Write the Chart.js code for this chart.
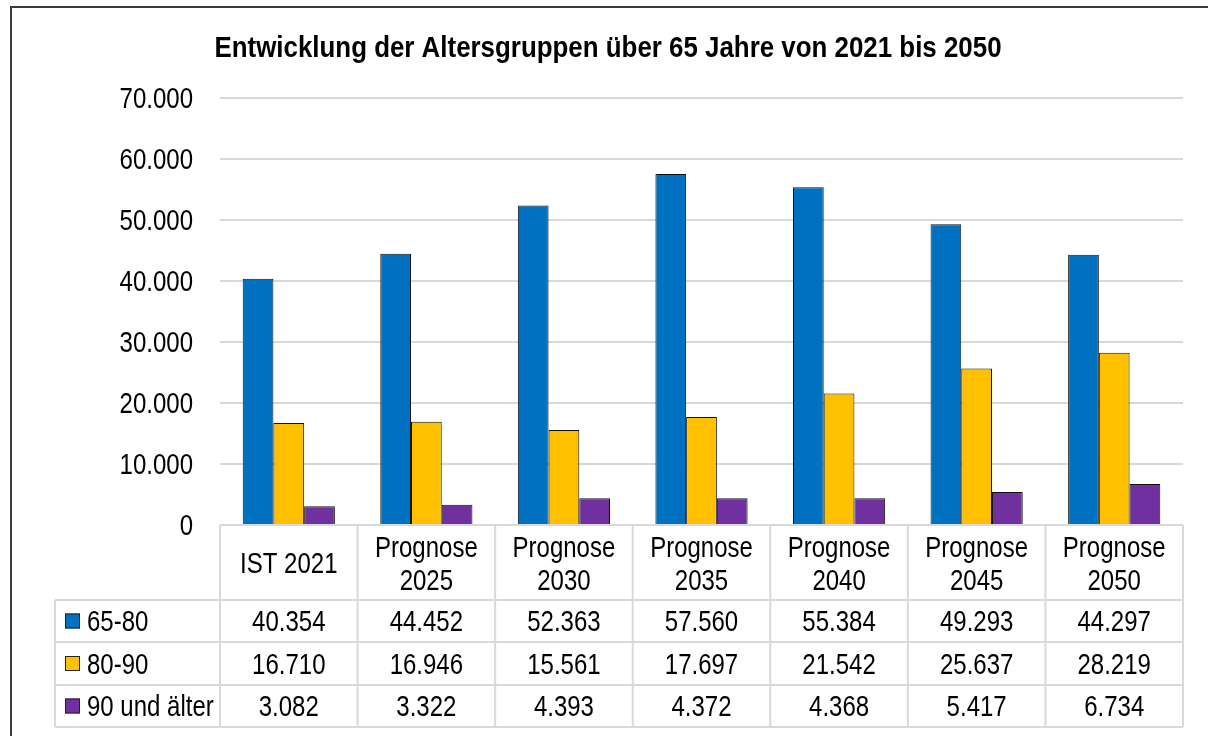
<!DOCTYPE html>
<html>
<head>
<meta charset="utf-8">
<script src="https://cdn.jsdelivr.net/npm/chart.js@4.4.1/dist/chart.umd.min.js"></script>
<style>
  html, body { margin: 0; padding: 0; background: #fff; }
  #wrap { position: relative; width: 1208px; height: 736px; }
</style>
</head>
<body>
<div id="wrap"><canvas id="c" width="1208" height="736"></canvas></div>
<script>
const title = 'Entwicklung der Altersgruppen über 65 Jahre von 2021 bis 2050';
const categories = [['IST 2021'], ['Prognose', '2025'], ['Prognose', '2030'], ['Prognose', '2035'], ['Prognose', '2040'], ['Prognose', '2045'], ['Prognose', '2050']];
const seriesNames = ['65-80', '80-90', '90 und älter'];
const values6580 = [40354, 44452, 52363, 57560, 55384, 49293, 44297];
const values8090 = [16710, 16946, 15561, 17697, 21542, 25637, 28219];
const values90 = [3082, 3322, 4393, 4372, 4368, 5417, 6734];
const colors = ['#0070C0', '#FFC000', '#7030A0'];
const yMax = 70000;
const yStep = 10000;

const FAMILY = '"Liberation Sans", Arial, sans-serif';
const FONT = '24px ' + FAMILY;
const FONT_SY = 1.2;
const TITLE_FONT = 'bold 25.9px ' + FAMILY;
const TITLE_SY = 1.15;

function fmt(n) {
  return String(Math.round(n)).replace(/\B(?=(\d{3})+(?!\d))/g, '.');
}

function drawText(ctx, text, x, baseline, font, sy, align) {
  ctx.save();
  ctx.font = font;
  ctx.textAlign = align || 'center';
  ctx.textBaseline = 'alphabetic';
  ctx.fillStyle = '#000';
  ctx.translate(x, baseline);
  ctx.scale(1, sy);
  ctx.fillText(text, 0, 0);
  ctx.restore();
}

const allSeries = [values6580, values8090, values90];
const GRID = '#d9d9d9';

const tablePlugin = {
  id: 'tablePlugin',
  beforeDraw(chart) {
    const ctx = chart.ctx;
    ctx.save();
    ctx.fillStyle = '#fff';
    ctx.fillRect(0, 0, chart.width, chart.height);
    // outer frame (left + top)
    ctx.strokeStyle = '#3c3c3c';
    ctx.lineWidth = 2;
    ctx.beginPath();
    ctx.moveTo(11, chart.height + 5);
    ctx.lineTo(11, 7);
    ctx.lineTo(chart.width + 5, 7);
    ctx.stroke();
    ctx.restore();
    // title
    drawText(ctx, title, 608, 57, TITLE_FONT, TITLE_SY, 'center');
  },
  afterDraw(chart) {
    const ctx = chart.ctx;
    const xs = chart.scales.x;
    const ys = chart.scales.y;
    const area = chart.chartArea;
    const n = categories.length;
    const colW = (area.right - area.left) / n;
    const top = area.bottom;
    const rowBounds = [top, top + 75, top + 117, top + 160, top + 202];
    const legendLeft = 55;

    // y tick labels from the scale's ticks
    ys.ticks.forEach(t => {
      drawText(ctx, fmt(t.value), area.left - 27, ys.getPixelForValue(t.value) + 10, FONT, FONT_SY, 'right');
    });

    ctx.save();
    ctx.strokeStyle = GRID;
    ctx.lineWidth = 2;
    ctx.beginPath();
    ctx.moveTo(area.left, rowBounds[0]);
    ctx.lineTo(area.right, rowBounds[0]);
    for (let r = 1; r < rowBounds.length; r++) {
      ctx.moveTo(legendLeft, rowBounds[r]);
      ctx.lineTo(area.right, rowBounds[r]);
    }
    ctx.moveTo(legendLeft, rowBounds[1]);
    ctx.lineTo(legendLeft, rowBounds[4]);
    for (let i = 0; i <= n; i++) {
      const x = area.left + i * colW;
      ctx.moveTo(x, rowBounds[0]);
      ctx.lineTo(x, rowBounds[4]);
    }
    ctx.stroke();
    ctx.restore();

    // header
    const hMid = (rowBounds[0] + rowBounds[1]) / 2;
    const lh = 33;
    categories.forEach((lines, i) => {
      const cx = xs.getPixelForValue(i);
      const firstBase = hMid + 10.5 - (lines.length - 1) * lh / 2;
      lines.forEach((t, k) => drawText(ctx, t, cx, firstBase + k * lh, FONT, FONT_SY, 'center'));
    });
    // data rows
    allSeries.forEach((vals, r) => {
      const mid = (rowBounds[r + 1] + rowBounds[r + 2]) / 2;
      vals.forEach((v, i) => {
        drawText(ctx, fmt(v), xs.getPixelForValue(i), mid + 10, FONT, FONT_SY, 'center');
      });
      ctx.save();
      ctx.fillStyle = colors[r];
      ctx.fillRect(65, mid - 7.5, 15, 15);
      ctx.strokeStyle = '#222';
      ctx.lineWidth = 1;
      ctx.strokeRect(65.5, mid - 7, 14, 14);
      ctx.restore();
      drawText(ctx, seriesNames[r], 87, mid + 10, FONT, FONT_SY, 'left');
    });
  }
};

const ds = allSeries.map((vals, i) => ({
  label: seriesNames[i],
  data: vals,
  backgroundColor: colors[i],
  borderColor: '#111',
  borderWidth: 1,
  borderSkipped: 'bottom',
  categoryPercentage: 0.67,
  barPercentage: 1.0
}));

new Chart(document.getElementById('c'), {
  type: 'bar',
  data: { labels: categories.map(l => l.join(' ')), datasets: ds },
  options: {
    responsive: false,
    animation: false,
    devicePixelRatio: 1,
    layout: { padding: { top: 98, left: 0, right: 25, bottom: 211 } },
    plugins: { legend: { display: false }, title: { display: false }, tooltip: { enabled: false } },
    scales: {
      x: { display: false },
      y: {
        min: 0, max: yMax,
        afterFit(scale) { scale.width = 220; },
        border: { display: false },
        grid: { color: GRID, lineWidth: 2, drawTicks: false },
        ticks: {
          display: false,
          stepSize: yStep,
          callback: v => fmt(v)
        }
      }
    }
  },
  plugins: [tablePlugin]
});
</script>
</body>
</html>
